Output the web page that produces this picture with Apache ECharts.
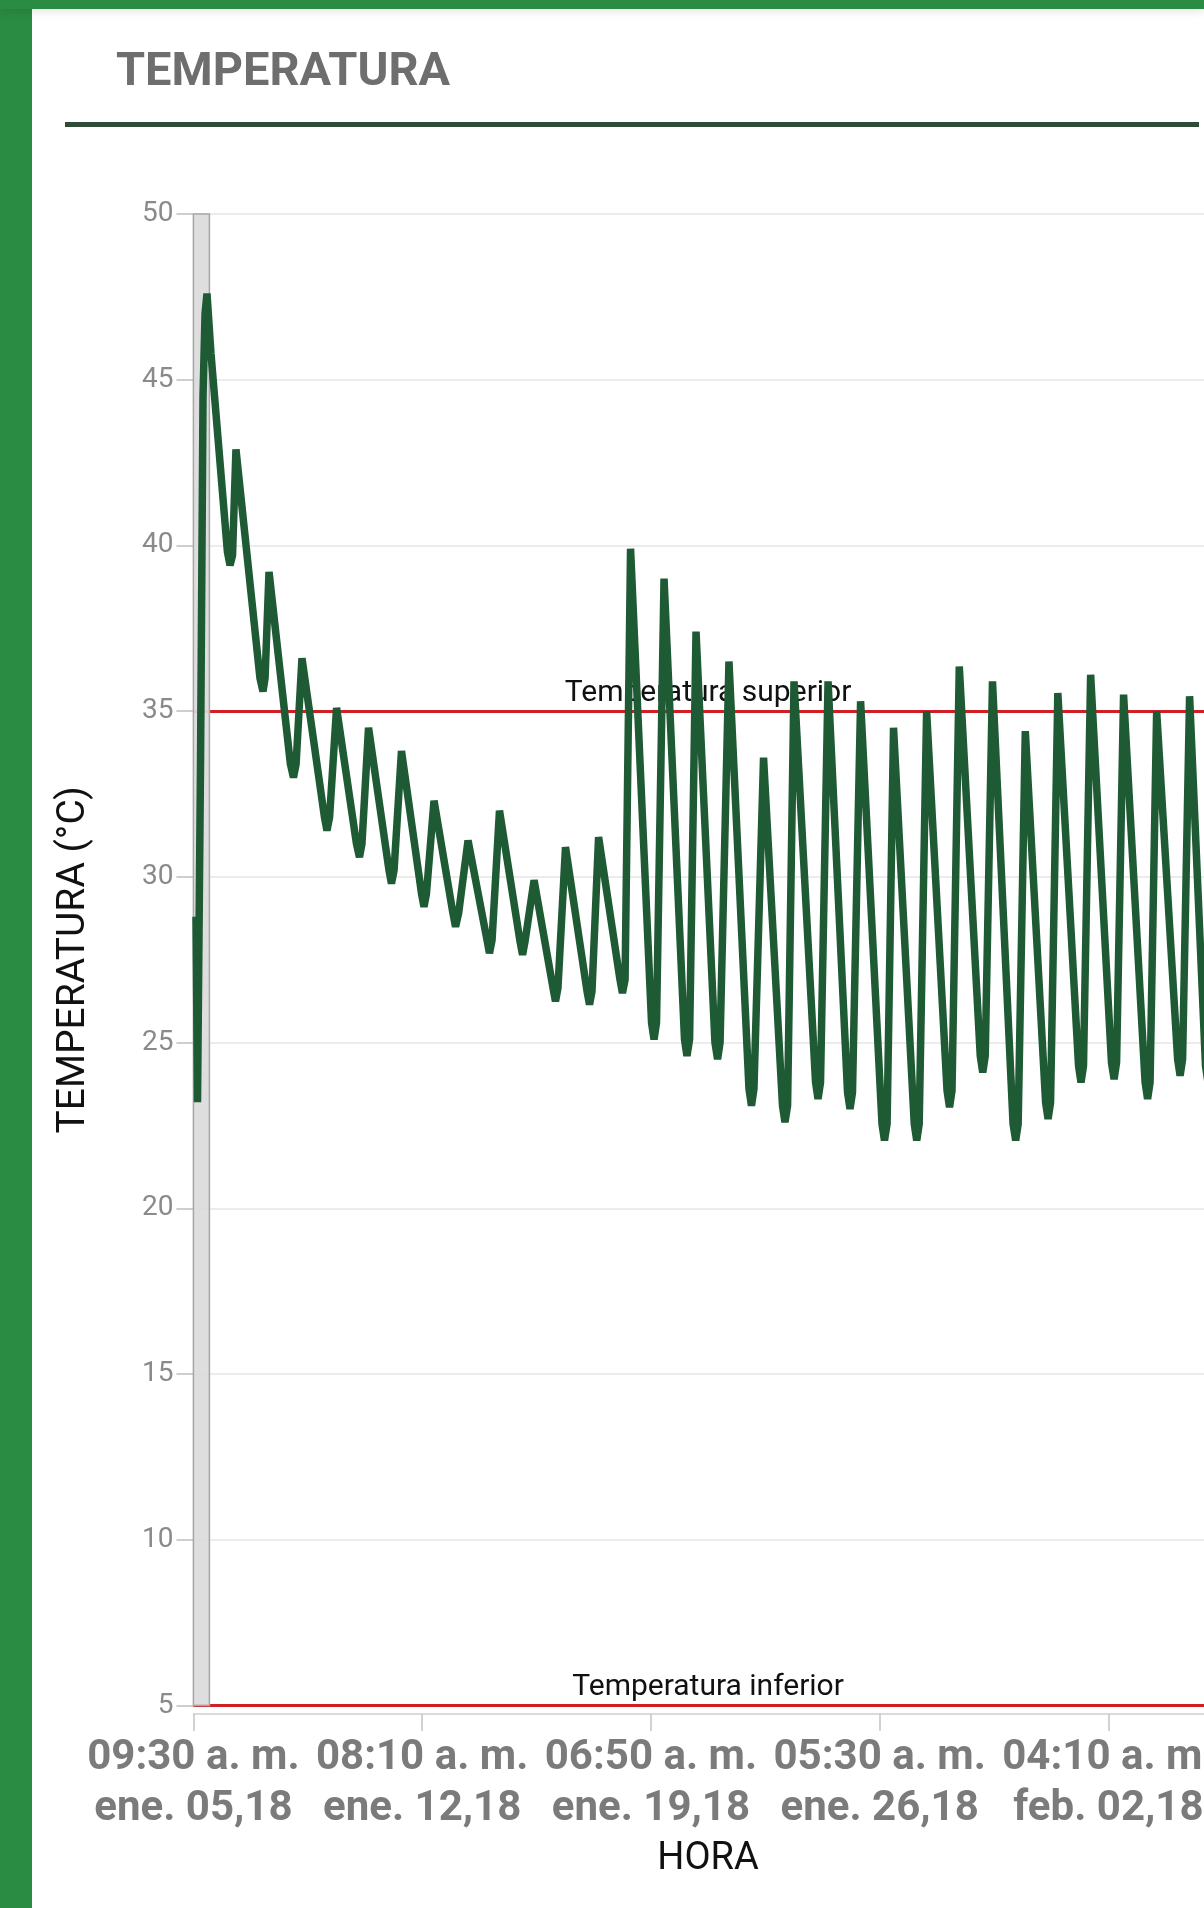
<!DOCTYPE html>
<html>
<head>
<meta charset="utf-8">
<title>Temperatura</title>
<script src="https://cdn.jsdelivr.net/npm/echarts@6/dist/echarts.min.js"></script>
<style>
  html, body { margin: 0; padding: 0; background: #ffffff; width: 1204px; height: 1908px; overflow: hidden; }
  #chart { position: absolute; left: 0; top: 0; width: 1250px; height: 1908px; }
  .marco-izq { position: absolute; left: 0; top: 0; width: 32px; height: 1908px; background: #2a8b42; z-index: 2; }
  .marco-sup { position: absolute; left: 0; top: 0; width: 1204px; height: 9px; background: #2a8b42; z-index: 2; box-shadow: 0 3px 8px rgba(0,0,0,0.10); }
</style>
</head>
<body>
<div id="chart"></div>
<div class="marco-izq"></div>
<div class="marco-sup"></div>
<script>
// Registro de temperatura: horas transcurridas desde el 05 ene 2018, 09:30
const inicio = Date.UTC(2018, 0, 5, 9, 30);

const horas = [
  1.9, 3.0, 5.2, 7.0, 8.5, 9.9, 12.8,
  24.8, 26.7, 28.5, 31.0,
  48.5, 50.7, 52.2, 55.1,
  70.7, 72.9, 74.8, 79.1,
  95.5, 97.3, 99.2, 104.3,
  118.8, 121.0, 122.8, 127.6,
  142.5, 144.3, 146.2, 151.6,
  166.2, 168.0, 169.8, 175.3,
  189.1, 191.0, 193.2, 200.1,
  213.9, 215.7, 217.6, 223.0,
  238.0, 239.8, 241.6, 248.2,
  262.0, 263.8, 265.6, 271.1,
  286.8, 288.6, 290.4, 295.2,
  310.8, 312.6, 314.5, 318.5,
  333.8, 335.6, 337.4, 342.9,
  357.8, 359.6, 361.5, 366.2,
  380.0, 381.9, 383.7, 390.2,
  404.8, 406.6, 408.4, 415.4,
  429.2, 431.0, 432.9, 437.6,
  453.3, 455.1, 456.9, 462.4,
  476.6, 478.4, 480.2, 486.1,
  501.7, 503.5, 505.4, 510.1,
  525.2, 527.0, 528.8, 534.2,
  549.1, 550.9, 552.7, 558.0,
  573.3, 575.1, 576.9, 582.2,
  597.2, 599.1, 600.9, 606.1,
  620.9, 622.7, 624.5, 629.8,
  644.9, 646.7, 648.5, 653.7,
  668.9, 670.8, 672.6, 677.7,
  693.4, 695.2, 697.0, 701.8,
  717.1, 718.9, 720.7, 725.8,
  737.4, 739.2, 741.1
];

const temperaturas = [
  28.8, 23.2, 33.5, 44.5, 47.0, 47.6, 45.8,
  39.8, 39.4, 39.7, 42.9,
  36.0, 35.6, 36.0, 39.2,
  33.4, 33.0, 33.4, 36.6,
  31.8, 31.4, 31.8, 35.1,
  31.0, 30.6, 31.0, 34.5,
  30.2, 29.8, 30.2, 33.8,
  29.5, 29.1, 29.5, 32.3,
  28.9, 28.5, 28.9, 31.1,
  28.1, 27.7, 28.1, 32.0,
  28.05, 27.65, 28.05, 29.9,
  26.65, 26.25, 26.65, 30.9,
  26.55, 26.15, 26.55, 31.2,
  26.9, 26.5, 26.9, 39.9,
  25.6, 25.1, 25.6, 39.0,
  25.1, 24.6, 25.1, 37.4,
  25.0, 24.5, 25.0, 36.5,
  23.6, 23.1, 23.6, 33.6,
  23.1, 22.6, 23.1, 35.9,
  23.8, 23.3, 23.8, 35.9,
  23.5, 23.0, 23.5, 35.3,
  22.55, 22.05, 22.55, 34.5,
  22.55, 22.05, 22.55, 35.0,
  23.55, 23.05, 23.55, 36.35,
  24.6, 24.1, 24.6, 35.9,
  22.55, 22.05, 22.55, 34.4,
  23.2, 22.7, 23.2, 35.55,
  24.3, 23.8, 24.3, 36.1,
  24.4, 23.9, 24.4, 35.5,
  23.8, 23.3, 23.8, 35.0,
  24.5, 24.0, 24.5, 35.45,
  24.3, 23.8, 24.3
];

// Umbrales de alarma
const limites = [
  { nombre: 'Temperatura superior', valor: 35 },
  { nombre: 'Temperatura inferior', valor: 5 }
];

// Tramo resaltado al inicio del registro (horas)
const tramoResaltado = [0, 11.67];

// Escala vertical
const temperaturaMin = 5;
const temperaturaMax = 50;
const pasoTemperatura = 5;

// Escala horizontal en minutos: una marca cada 10000 min
const pasoMinutos = 10000;
const minutosMax = 45000;

const meses = ['ene.', 'feb.', 'mar.', 'abr.', 'may.', 'jun.', 'jul.', 'ago.', 'sep.', 'oct.', 'nov.', 'dic.'];

function dos(n) { return (n < 10 ? '0' : '') + n; }

function etiquetaTiempo(minutos) {
  const d = new Date(inicio + Math.round(minutos) * 60000);
  const h = d.getUTCHours();
  let h12 = h % 12;
  if (h12 === 0) h12 = 12;
  const sufijo = h < 12 ? 'a. m.' : 'p. m.';
  return dos(h12) + ':' + dos(d.getUTCMinutes()) + ' ' + sufijo + '\n' +
    meses[d.getUTCMonth()] + ' ' + dos(d.getUTCDate()) + ',' + String(d.getUTCFullYear()).slice(2);
}

const puntos = horas.map((h, i) => [h * 60, temperaturas[i]]);

const chart = echarts.init(document.getElementById('chart'), null, { renderer: 'canvas' });

const fuente = 'Roboto, "Noto Sans", sans-serif';

chart.setOption({
  animation: false,
  backgroundColor: 'transparent',
  title: {
    text: 'TEMPERATURA',
    left: 116,
    top: 50,
    padding: 0,
    textStyle: { fontFamily: fuente, fontSize: 47, fontWeight: 'bold', color: '#6e6e6e' }
  },
  graphic: [
    { type: 'rect', left: 65, top: 122, shape: { width: 1134, height: 5 }, style: { fill: '#2d4b35' } }
  ],
  grid: { left: 193.4, top: 214, width: 1029.4, height: 1491.6 },
  xAxis: {
    type: 'value',
    min: 0,
    max: minutosMax,
    interval: pasoMinutos,
    offset: 8.4,
    name: 'HORA',
    nameLocation: 'middle',
    nameGap: 126,
    nameTextStyle: { fontFamily: fuente, fontSize: 38, color: '#111111' },
    axisLine: { show: true, lineStyle: { color: '#cdd0d3', width: 1.5 } },
    axisTick: { show: true, length: 17, lineStyle: { color: '#c4c4c4', width: 1.5 } },
    axisLabel: {
      formatter: etiquetaTiempo,
      showMaxLabel: false,
      margin: 19,
      fontFamily: fuente,
      fontSize: 42,
      fontWeight: 'bold',
      lineHeight: 51,
      color: '#7b7b7b'
    },
    splitLine: { show: false }
  },
  yAxis: {
    type: 'value',
    min: temperaturaMin,
    max: temperaturaMax,
    interval: pasoTemperatura,
    name: 'TEMPERATURA (°C)',
    nameLocation: 'middle',
    nameGap: 100,
    nameTextStyle: { fontFamily: fuente, fontSize: 39, color: '#111111' },
    axisLine: { show: false },
    axisTick: { show: true, length: 17, lineStyle: { color: '#bfbfbf', width: 1.5 } },
    axisLabel: { margin: 20, fontFamily: fuente, fontSize: 28, color: '#8a8a8a' },
    splitLine: { show: true, lineStyle: { color: '#e6e6e6', width: 1.5 } }
  },
  series: [
    {
      name: 'Límites',
      type: 'line',
      data: [],
      z: 1,
      silent: true,
      markLine: {
        z: 1,
        silent: true,
        symbol: ['none', 'none'],
        lineStyle: { color: '#d21f26', width: 3, type: 'solid' },
        label: {
          show: true,
          position: 'insideMiddleTop',
          distance: 3,
          fontFamily: fuente,
          fontSize: 30,
          color: '#111111'
        },
        data: limites.map(l => ({ yAxis: l.valor, label: { formatter: l.nombre } }))
      }
    },
    {
      name: 'Tramo',
      type: 'line',
      data: [],
      z: 2,
      silent: true,
      clip: false,
      markArea: {
        z: 2,
        silent: true,
        itemStyle: { color: 'rgba(220,220,220,0.93)', borderColor: '#a6a6a6', borderWidth: 1.5 },
        data: [[
          { xAxis: tramoResaltado[0] * 60, yAxis: 4.75 },
          { xAxis: tramoResaltado[1] * 60, yAxis: temperaturaMax }
        ]]
      }
    },
    {
      name: 'Temperatura',
      type: 'line',
      z: 3,
      data: puntos,
      showSymbol: false,
      smooth: false,
      lineStyle: { color: '#1e5a33', width: 7.5, join: 'bevel' },
      itemStyle: { color: '#1e5a33' }
    }
  ]
});
</script>
</body>
</html>
